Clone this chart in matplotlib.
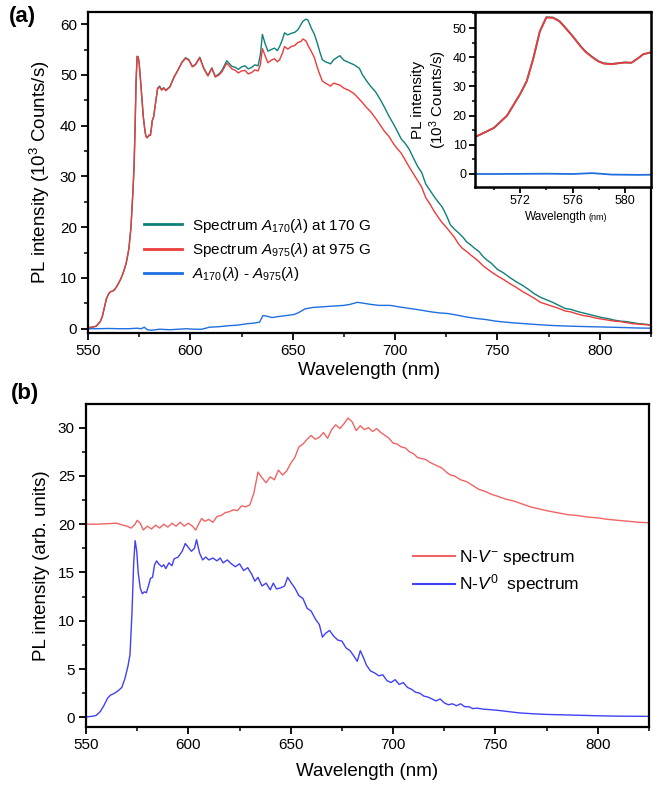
import matplotlib
matplotlib.use("Agg")
import matplotlib.pyplot as plt
from matplotlib.ticker import MultipleLocator

plt.rcParams['font.family'] = ['Liberation Sans', 'DejaVu Sans']
plt.rcParams['mathtext.fontset'] = 'custom'
plt.rcParams['mathtext.rm'] = 'Liberation Sans'
plt.rcParams['mathtext.it'] = 'Liberation Sans:italic'
plt.rcParams['mathtext.bf'] = 'Liberation Sans:bold'

# ---------------- data: panel (a) ----------------
wl_a = [550, 552, 554, 556, 557, 558, 559, 560, 561, 562, 563, 564, 565, 566, 567, 568, 568.6, 569, 570, 571,
        572, 572.5, 573, 573.5, 574, 574.5, 575, 575.6, 576, 576.6, 577, 577.6, 578, 578.4, 579, 579.6, 580, 580.5,
        581, 581.4, 582.1, 583, 584, 585, 586, 587, 588, 590, 592, 594, 596, 597.7, 599.3, 601, 602.5, 604.6,
        606.5, 608.6, 610.5, 612.2, 614, 615.4, 617.8, 620.3, 622, 623.5, 625, 626.7, 628.3, 630, 631.5, 633.1,
        634.2, 635.2, 636.5, 637.9, 639.5, 641.1, 642.5, 643.6, 645, 646, 647.6, 649.3, 651, 652.5, 654, 655,
        656.5, 657.5, 659, 660.6, 662, 663.5, 664.5, 666, 668.5, 670, 671.5, 673, 675, 677.8, 680, 682.6, 684,
        685.8, 688, 690.6, 693, 695, 697, 699, 701, 703, 705, 707, 709, 711, 713, 715, 717, 719, 721, 723, 725,
        727, 729, 731, 733, 735, 737, 739, 741, 743, 745, 747, 750, 753, 756, 759, 762, 765, 768, 771, 774, 777,
        780, 783, 786, 789, 792, 795, 798, 801, 804, 807, 810, 813, 816, 819, 822, 825]
a975 = [0.2, 0.3, 0.5, 1.4, 2.4, 4.2, 5.9, 6.8, 7.3, 7.4, 7.7, 8.3, 9.0, 9.8, 10.8, 12.0, 12.8, 13.6, 15.8, 20.0,
        27.4, 31.8, 39.5, 48.8, 53.6, 53.5, 52.3, 49.3, 47.2, 43.8, 41.8, 39.7, 38.5, 37.8, 37.6, 38.0, 38.2, 38.1,
        39.6, 41.0, 41.8, 44.5, 47.3, 47.6, 47.0, 47.4, 46.9, 47.6, 49.5, 51.0, 52.5, 53.3, 52.9, 51.6, 52.0, 53.4,
        51.3, 49.8, 51.3, 49.6, 50.0, 50.6, 52.3, 51.2, 50.9, 50.4, 50.8, 50.9, 50.2, 50.5, 51.0, 50.8,
        52.0, 55.2, 53.8, 52.4, 52.9, 53.2, 52.6, 53.0, 54.3, 55.6, 55.1, 55.6, 55.8, 56.4, 56.6, 57.1,
        56.7, 55.8, 54.7, 53.4, 51.5, 49.8, 48.8, 48.4, 47.8, 48.4, 48.2, 48.0, 47.4, 46.9, 46.3, 45.2, 44.6,
        43.7, 42.8, 41.4, 40.0, 38.8, 37.9, 36.6, 35.5, 34.6, 33.2, 31.8, 30.5, 29.2, 27.9, 25.8, 24.6, 23.2, 22.0,
        20.9, 20.0, 19.0, 18.0, 16.7, 15.8, 15.2, 14.5, 13.9, 13.2, 12.4, 11.8, 11.2, 10.4, 9.7, 8.9, 8.2, 7.4,
        6.7, 6.0, 5.2, 4.8, 4.4, 4.0, 3.5, 3.3, 2.9, 2.6, 2.4, 2.1, 1.9, 1.7, 1.5, 1.4, 1.2, 1.0, 0.9, 0.8, 0.7]
a170 = [0.2, 0.3, 0.5, 1.4, 2.4, 4.2, 5.9, 6.8, 7.3, 7.4, 7.7, 8.3, 9.0, 9.8, 10.8, 12.0, 12.8, 13.6, 15.8, 20.0,
        27.4, 31.8, 39.5, 48.8, 53.7, 53.6, 52.4, 49.4, 47.3, 43.9, 41.9, 39.8, 38.6, 37.9, 37.7, 38.0, 38.2, 38.1,
        39.6, 41.0, 41.8, 44.5, 47.4, 47.8, 47.1, 47.5, 47.0, 47.7, 49.6, 51.0, 52.6, 53.4, 53.0, 51.7, 52.1, 53.5,
        51.4, 49.9, 51.4, 49.7, 50.2, 50.9, 52.8, 51.7, 51.5, 51.1, 51.6, 51.8, 51.2, 51.5, 52.0, 51.8,
        54.0, 58.0, 56.2, 54.7, 55.0, 55.3, 54.8, 55.6, 57.0, 58.3, 57.9, 58.2, 58.4, 58.9, 59.9, 60.6,
        61.0, 60.8, 59.3, 58.0, 56.3, 54.2, 53.0, 52.6, 52.2, 53.0, 53.4, 53.8, 52.9, 52.4, 52.0, 51.3, 50.1,
        49.0, 47.8, 46.6, 45.0, 43.5, 41.9, 40.5, 39.0, 37.4, 36.5, 35.3, 33.6, 32.0, 30.8, 28.5, 27.3, 26.1, 25.0,
        24.0, 22.4, 20.5, 19.6, 18.9, 18.1, 17.1, 16.5, 15.8, 15.2, 14.2, 13.5, 12.9, 11.7, 11.0, 10.1, 9.3, 8.6,
        7.8, 6.9, 6.2, 5.7, 5.2, 4.6, 4.0, 3.8, 3.4, 3.1, 2.8, 2.5, 2.2, 2.0, 1.7, 1.5, 1.4, 1.2, 1.0, 0.9, 0.75]

wl_diff = [550, 555, 560, 565, 570, 574, 576, 577.5, 579, 581, 585, 590, 594, 598, 602, 605.6, 609.4, 614, 618.8,
           623, 628, 631, 633.8, 635.5, 637, 640, 643, 647, 650.7, 653, 656, 660, 664, 667.5, 671, 675, 678,
           681.6, 685, 688, 692, 697.6, 702, 707, 712, 718, 722, 725.7, 730, 735, 740, 744.5, 749, 753.8, 758,
           763.2, 770, 776, 782, 790, 800.7, 810, 818, 825]
diff_vals = [0.0, 0.0, 0.05, 0.0, 0.0, 0.1, 0.0, 0.3, -0.2, -0.3, -0.1, -0.2, -0.1, 0.0, -0.1, -0.1, 0.3, 0.4, 0.6,
             0.7, 1.0, 1.1, 1.3, 2.6, 2.5, 2.2, 2.4, 2.6, 2.8, 3.2, 3.9, 4.2, 4.3, 4.4, 4.5, 4.6, 4.8,
             5.2, 5.0, 4.8, 4.6, 4.6, 4.3, 4.0, 3.7, 3.3, 3.1, 3.0, 2.7, 2.3, 2.0, 1.8, 1.5, 1.3, 1.15,
             1.0, 0.8, 0.65, 0.55, 0.45, 0.35, 0.25, 0.15, 0.1]

# ---------------- data: panel (b) ----------------
wl_nvm = [550, 555, 560, 565, 568, 570, 572, 574, 575, 576.5, 578, 580, 582, 584, 586, 588, 590, 592, 594, 596,
          598, 600, 602, 603.6, 605, 606.5, 608, 610, 612, 614, 616, 618, 620, 622, 624, 626, 628, 630, 632, 634,
          636, 638, 640, 642, 644, 646, 648, 650, 652, 654, 656, 658, 660, 662, 664, 666, 668, 670, 672, 674, 676,
          678, 680, 682, 684, 686, 688, 690, 692, 694, 696, 698, 700, 702, 704, 706, 708, 710, 712, 714, 716, 718,
          720, 722, 724, 726, 728, 730, 733, 736, 739, 742, 745, 748, 751, 755, 759, 763, 767, 771, 775, 780, 785,
          790, 795, 800, 805, 810, 815, 820, 825]
nvm = [20.0, 20.0, 20.05, 20.1, 19.9, 19.8, 19.6, 20.0, 20.4, 20.1, 19.4, 19.8, 19.5, 19.9, 19.6, 20.0, 19.7, 20.1,
       19.8, 20.2, 19.8, 20.1, 19.8, 19.4, 20.0, 20.6, 20.3, 20.5, 20.2, 20.8, 20.9, 21.2, 21.3, 21.5, 21.4, 21.9,
       21.8, 22.0, 23.2, 25.4, 24.8, 24.3, 24.9, 24.6, 25.6, 25.1, 25.5, 26.3, 26.9, 28.0, 28.3, 28.8, 29.2, 28.8,
       29.0, 29.5, 28.9, 29.8, 30.3, 29.9, 30.4, 31.0, 30.6, 29.7, 30.2, 29.8, 30.0, 29.6, 29.9, 29.5, 29.2, 28.9,
       28.4, 28.3, 28.0, 27.9, 27.5, 27.3, 26.9, 26.8, 26.7, 26.4, 26.2, 26.0, 25.8, 25.4, 25.1, 25.0, 24.6, 24.4,
       24.0, 23.6, 23.4, 23.1, 22.9, 22.6, 22.4, 22.1, 21.8, 21.6, 21.4, 21.2, 21.0, 20.9, 20.75, 20.65, 20.5,
       20.4, 20.3, 20.2, 20.15]

wl_nv0 = [550, 553, 555, 557, 558.7, 560.6, 562, 564, 566, 567.5, 569, 570.5, 571.5, 572.5, 573.3, 574, 574.8,
          575.5, 576.5, 577.5, 578.5, 579.5, 580.5, 581.5, 582.5, 583.5, 584.5, 585.5, 587, 588, 589, 590.5, 592,
          593, 595, 597, 598.5, 600, 601.5, 603, 604, 605.5, 607, 608.5, 610, 612, 614, 615.5, 617, 619, 621, 623,
          625, 627, 629, 631, 632.5, 634, 636, 638, 640, 641.5, 643, 645, 647, 648.5, 650, 652, 654, 656, 658,
          660, 662, 664, 665.5, 667, 669, 671, 673, 675, 677, 679, 681, 682.5, 684, 685.5, 687, 689, 691, 693,
          695, 697, 699, 701, 703, 705, 707, 709, 711, 713, 715, 717, 719, 721, 723, 725, 727, 729, 731, 733, 735,
          737, 739, 741, 744, 747, 750, 754, 758, 762, 766, 770, 775, 780, 785, 790, 795, 800, 810, 820, 825]
nv0 = [0.05, 0.1, 0.2, 0.6, 1.2, 2.0, 2.3, 2.5, 2.8, 3.1, 4.0, 5.3, 6.5, 11.0, 16.0, 18.3, 17.2,
       15.0, 13.4, 12.8, 13.0, 12.9, 13.6, 14.4, 14.5, 15.8, 16.2, 15.9, 15.6, 15.8, 15.4, 16.0, 15.7,
       16.4, 16.6, 17.2, 18.0, 17.6, 17.2, 17.5, 18.4, 17.0, 16.3, 16.6, 16.3, 16.5, 16.2, 16.5, 16.0, 16.3, 15.9,
       15.6, 15.9, 15.2, 15.5, 14.8, 14.1, 14.5, 13.6, 13.9, 13.2, 13.9, 13.3, 13.4, 13.6, 14.5, 14.0, 13.4, 12.6,
       12.3, 11.3, 11.0, 10.2, 9.6, 8.3, 8.7, 9.0, 8.4, 8.0, 7.9, 7.2, 6.9, 6.3, 5.8, 6.9, 6.2, 5.4, 4.8, 4.6,
       4.3, 4.4, 3.8, 3.6, 3.9, 3.4, 3.6, 3.1, 2.9, 2.6, 2.5, 2.2, 2.1, 1.9, 1.7, 1.9, 1.5, 1.3, 1.4, 1.2, 1.4,
       1.1, 1.1, 0.9, 0.95, 0.85, 0.8, 0.75, 0.65, 0.55, 0.45, 0.4, 0.35, 0.3, 0.27, 0.24, 0.2, 0.18, 0.16, 0.12,
       0.1, 0.1]

labels_a = [r"Spectrum $\mathit{A}_{170}(\mathit{\lambda})$ at 170 G",
            r"Spectrum $\mathit{A}_{975}(\mathit{\lambda})$ at 975 G",
            r"$\mathit{A}_{170}(\mathit{\lambda})$ - $\mathit{A}_{975}(\mathit{\lambda})$"]
labels_b = [r"N-$\mathit{V}^{-}$ spectrum", r"N-$\mathit{V}^{0}$  spectrum"]

c_green = '#0e8078'
c_red = '#ee3b3b'
c_blue = '#1f6fe0'
c_nvm = '#f06464'
c_nv0 = '#4040f5'

fig = plt.figure(figsize=(6.65, 7.92), dpi=100)
ax_a = fig.add_axes([0.1323, 0.5795, 0.8466, 0.4053])
ax_b = fig.add_axes([0.1293, 0.0821, 0.8466, 0.4078])
ax_in = fig.add_axes([0.7143, 0.7639, 0.2647, 0.221])

def style(ax, lab=11, maj=5, mnr=3, sw=1.6):
    for s in ax.spines.values():
        s.set_linewidth(sw)
    ax.tick_params(which='major', direction='out', length=maj, width=1.3, labelsize=lab, pad=3)
    ax.tick_params(which='minor', direction='out', length=mnr, width=1.1)

# panel (a)
ax_a.plot(wl_a, a170, color=c_green, lw=1.0, label=labels_a[0])
ax_a.plot(wl_a, a975, color=c_red, lw=1.0, label=labels_a[1])
ax_a.plot(wl_diff, diff_vals, color=c_blue, lw=1.0, label=labels_a[2])
ax_a.set_xlim(550, 825)
ax_a.set_ylim(-0.85, 62.4)
ax_a.xaxis.set_major_locator(MultipleLocator(50))
ax_a.xaxis.set_minor_locator(MultipleLocator(25))
ax_a.yaxis.set_major_locator(MultipleLocator(10))
ax_a.yaxis.set_minor_locator(MultipleLocator(5))
style(ax_a)
ax_a.set_xlabel('Wavelength (nm)', fontsize=13.5, labelpad=3)
ax_a.set_ylabel(r'PL intensity (10$^3$ Counts/s)', fontsize=13.5, labelpad=6)
leg = ax_a.legend(loc='upper left', bbox_to_anchor=(0.1, 0.363), frameon=False, fontsize=11,
                  handlelength=2.5, handletextpad=0.6, labelspacing=0.42, borderpad=0, borderaxespad=0)
for h in leg.get_lines():
    h.set_linewidth(2.0)

# inset
ax_in.plot(wl_a, a170, color=c_green, lw=1.3)
ax_in.plot(wl_a, a975, color=c_red, lw=1.3)
ax_in.plot(wl_diff, diff_vals, color=c_blue, lw=1.3)
ax_in.set_xlim(568.55, 582.0)
ax_in.set_ylim(-4.45, 55.5)
ax_in.xaxis.set_minor_locator(MultipleLocator(2))
ax_in.set_xticks([572, 576, 580])
ax_in.yaxis.set_major_locator(MultipleLocator(10))
ax_in.yaxis.set_minor_locator(MultipleLocator(5))
style(ax_in, lab=9, maj=4, mnr=2.5, sw=1.8)
ax_in.tick_params(which='major', pad=2)
ax_in.set_ylabel('PL intensity\n' + r'(10$^3$ Counts/s)', fontsize=11, labelpad=3, linespacing=1.1)
ax_in.annotate('Wavelength', xy=(0.635, 0), xycoords='axes fraction', xytext=(0, -24),
               textcoords='offset points', ha='right', va='baseline', fontsize=8.5)
ax_in.annotate('(nm)', xy=(0.645, 0), xycoords='axes fraction', xytext=(0, -24),
               textcoords='offset points', ha='left', va='baseline', fontsize=6.5)

# panel (b)
ax_b.plot(wl_nvm, nvm, color=c_nvm, lw=1.0, label=labels_b[0])
ax_b.plot(wl_nv0, nv0, color=c_nv0, lw=1.0, label=labels_b[1])
ax_b.set_xlim(550, 825)
ax_b.set_ylim(-1.0, 32.45)
ax_b.xaxis.set_major_locator(MultipleLocator(50))
ax_b.xaxis.set_minor_locator(MultipleLocator(25))
ax_b.yaxis.set_major_locator(MultipleLocator(5))
ax_b.yaxis.set_minor_locator(MultipleLocator(2.5))
style(ax_b)
ax_b.set_xlabel('Wavelength (nm)', fontsize=13.5, labelpad=8)
ax_b.set_ylabel('PL intensity (arb. units)', fontsize=13.5, labelpad=6)
legb = ax_b.legend(loc='upper left', bbox_to_anchor=(0.581, 0.553), frameon=False, fontsize=12.5,
                   handlelength=2.4, handletextpad=0.25, labelspacing=0.3, borderpad=0, borderaxespad=0)
for h in legb.get_lines():
    h.set_linewidth(1.5)

fig.text(0.013, 0.993, '(a)', fontsize=16, fontweight='bold', va='top', ha='left')
fig.text(0.017, 0.517, '(b)', fontsize=16, fontweight='bold', va='top', ha='left')

fig.savefig('out.png', dpi=100)
